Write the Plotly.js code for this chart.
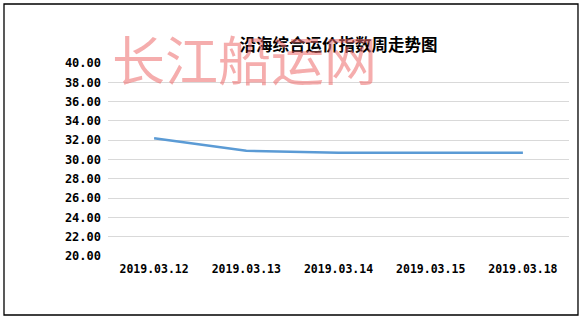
<!DOCTYPE html>
<html>
<head>
<meta charset="utf-8">
<script src="https://cdn.plot.ly/plotly-3.0.1.min.js"></script>
<style>
  html, body { margin: 0; padding: 0; background: #fff; }
  #chart { width: 582px; height: 321px; }
</style>
</head>
<body>
<div id="chart"></div>
<script>
// Coastal composite freight index, weekly trend
const dates = ['2019.03.12', '2019.03.13', '2019.03.14', '2019.03.15', '2019.03.18'];
const indexValues = [32.2, 30.9, 30.7, 30.7, 30.7];
const yTicks = [20, 22, 24, 26, 28, 30, 32, 34, 36, 38, 40];
const yTickLabels = yTicks.map(v => v.toFixed(2));

const trace = {
  x: dates,
  y: indexValues,
  type: 'scatter',
  mode: 'lines',
  line: { color: '#5b9bd5', width: 2.5 },
  hoverinfo: 'x+y'
};

const tickFont = { size: 12, color: '#000', family: '"DejaVu Sans Mono", monospace', weight: 'bold' };

const layout = {
  width: 582,
  height: 321,
  margin: { l: 108, r: 13, t: 63, b: 65 },
  paper_bgcolor: '#ffffff',
  plot_bgcolor: '#ffffff',
  showlegend: false,
  font: { family: '"Noto Sans CJK SC", "DejaVu Sans", sans-serif', color: '#000' },
  title: {
    text: '沿海综合运价指数周走势图',
    font: { size: 16.5, color: '#000', family: '"Noto Sans CJK SC", sans-serif', weight: 'bold' },
    x: 0.5, xanchor: 'center', xref: 'paper',
    y: 0.86, yanchor: 'middle', yref: 'container'
  },
  xaxis: {
    type: 'category',
    categoryorder: 'array',
    categoryarray: dates,
    range: [-0.5, 4.5],
    showgrid: false,
    zeroline: false,
    showline: false,
    ticks: '',
    tickfont: Object.assign({}, tickFont, { size: 11.5 }),
    ticklabelstandoff: 4
  },
  yaxis: {
    range: [20, 40],
    tickvals: yTicks,
    ticktext: yTickLabels,
    showgrid: true,
    gridcolor: '#d9d9d9',
    gridwidth: 1,
    zeroline: false,
    showline: false,
    ticks: '',
    tickfont: tickFont,
    ticklabelstandoff: 6
  },
  // chart frame
  shapes: [{
    type: 'rect', xref: 'paper', yref: 'paper', layer: 'above',
    x0: -0.2256, x1: 1.0195, y0: -0.3057, y1: 1.3057,
    line: { color: '#000', width: 1.3 }, fillcolor: 'rgba(0,0,0,0)'
  }],
  annotations: [{
    text: '长江船运网',
    xref: 'paper', yref: 'paper',
    x: 0.004, xanchor: 'left',
    y: 1.026, yanchor: 'middle',
    showarrow: false,
    font: { size: 53, color: 'rgba(236,105,105,0.55)', family: '"Noto Sans CJK SC", sans-serif' }
  }]
};

Plotly.newPlot('chart', [trace], layout, { displayModeBar: false, staticPlot: true });
</script>
</body>
</html>
